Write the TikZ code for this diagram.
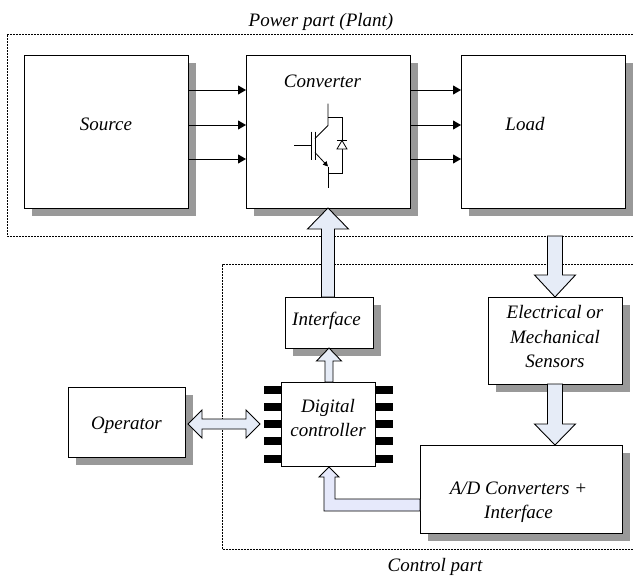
\documentclass[tikz,border=0pt]{standalone}
\usepackage{fontspec}
\setmainfont{Liberation Serif}
\usetikzlibrary{positioning,calc,shadows,arrows.meta}
\definecolor{busblue}{HTML}{E6ECF7}
\definecolor{buslilac}{HTML}{E6E9FB}
\definecolor{shadowgray}{HTML}{999999}
\tikzset{
    every node/.style={outer sep=0pt, inner sep=0pt},
    labeltext/.style={font=\fontsize{19}{24.5}\selectfont\itshape, align=center},
    plainbox/.style={draw, line width=1pt, fill=white, labeltext},
    shadowbox/.style={plainbox, drop shadow={shadow xshift=8pt, shadow yshift=-8pt, opacity=1, fill=shadowgray}},
    frameline/.style={line width=.7pt, dash pattern=on 2pt off 1pt},
    flow/.style={line width=1pt, -{Triangle[length=8pt,width=9pt]}},
    bus/.style={draw, line width=.9pt, fill=busblue, line join=miter},
    chippin/.style={fill=black, minimum width=17.5pt, minimum height=8pt}
}
% root, tip, half shaft, half head, head length
\newcommand{\vbus}[5]{
    \coordinate (bustip) at (#2);
    \coordinate (busroot) at (bustip |- #1);
    \draw[bus] ($(busroot)+(-#3,0)$) -- ($(bustip)+(-#3,#5)$) -- ($(bustip)+(-#4,#5)$) -- (bustip)
        -- ($(bustip)+(#4,#5)$) -- ($(bustip)+(#3,#5)$) -- ($(busroot)+(#3,0)$) -- cycle;
}
\begin{document}
\begin{tikzpicture}[x=1pt,y=-1pt]
\useasboundingbox (0,0) rectangle (633,576);

% dashed parts
\draw[frameline] (633,34) -- (7,34) -- (7,236) -- (633,236);
\draw[frameline] (633,264.5) -- (222,264.5) -- (222,549) -- (633,549);
\node[labeltext] (powerlabel) at (321,22) {Power part (Plant)};
\node[labeltext] (controllabel) at (435,567) {Control part};
\coordinate (powerfoot) at (555,236);

% power part
\node[shadowbox, minimum width=164pt, minimum height=153pt] (source) at (106,131.5) {};
\node[shadowbox, minimum width=164pt, minimum height=153pt, right=58pt of source] (converter) {};
\node[shadowbox, minimum width=164pt, minimum height=153pt, right=51pt of converter] (load) {};
\node[labeltext] (sourcelabel) at ($(source.center)+(0,-7)$) {Source};
\node[labeltext] (converterlabel) at ($(converter.center)+(-5.5,-50)$) {Converter};
\node[labeltext] (loadlabel) at ($(load.center)+(-18,-7)$) {Load};

\foreach \dy in {41.5,6.5,-27.5} {
    \draw[flow] ([yshift=\dy pt]source.east) -- ([yshift=\dy pt]converter.west);
    \draw[flow] ([yshift=\dy pt]converter.east) -- ([yshift=\dy pt]load.west);
}

% switch symbol
\coordinate (igbt) at ($(converter.center)+(0,14)$);
\begin{scope}[shift={(igbt)}, line width=.8pt]
\draw (-34,0) -- (-17,0);
\draw (-17,-14) -- (-17,14);
\draw (-13,-14) -- (-13,14);
\draw (0,-42) -- (0,-20) -- (-13,-7);
\draw[-{Triangle[length=5pt,width=5pt]}] (-13,7) -- (0,21);
\draw (0,21) -- (0,42);
\draw (0,-28) -- (14,-28) -- (14,28) -- (0,28);
\draw[fill=white] (9,3.5) -- (19,3.5) -- (14,-5) -- cycle;
\draw (9,-5) -- (19,-5);
\end{scope}

% control part
\node[shadowbox, minimum width=88pt, minimum height=51pt] (interface) at (329,322.5) {};
\node[labeltext] (interfacelabel) at ($(interface.center)+(-2.5,-2)$) {Interface};
\node[shadowbox, minimum width=134pt, minimum height=87pt] (sensors) at (555,340.5) {};
\node[labeltext] (sensorslabel) at ($(sensors.center)+(0,-4)$) {Electrical or\\Mechanical\\Sensors};
\node[shadowbox, minimum width=202pt, minimum height=88pt] (adconv) at (521,489) {};
\node[labeltext] (adlabel) at ($(adconv.center)+(-2.5,13)$) {A/D Converters +\\Interface};
\node[shadowbox, minimum width=117pt, minimum height=70pt] (operator) at (126.5,422) {};
\node[labeltext] (operatorlabel) at ($(operator.center)+(0,3)$) {Operator};

\node[plainbox, minimum width=94pt, minimum height=84pt] (controller) at (328,424) {};
\node[labeltext] (controllerlabel) at ($(controller.center)+(0,-6)$) {Digital\\controller};
\foreach \i in {1,...,5} {
    \node[chippin] (pinl\i) at ($(controller.west)+(-8.75,{(\i-3)*17.25})$) {};
    \node[chippin] (pinr\i) at ($(controller.east)+(8.75,{(\i-3)*17.25})$) {};
}

% buses
\vbus{interface.north}{converter.south}{6.5}{20.5}{21}
\vbus{controller.north}{interface.south}{4}{12.5}{13}
\vbus{powerfoot}{sensors.north}{7.5}{20.5}{-22}
\vbus{sensors.south}{sensors.south |- adconv.north}{7.5}{20.5}{-21}

\coordinate (opport) at ($(operator.east)+(3,2)$);
\coordinate (ctlport) at ($(controller.west)+(-21,0)$);
\draw[bus] (opport) -- ($(opport)+(14,-14)$) -- ($(opport)+(14,-5)$) -- ($(ctlport)+(-14,-5)$)
    -- ($(ctlport)+(-14,-14)$) -- (ctlport) -- ($(ctlport)+(-14,14)$) -- ($(ctlport)+(-14,5)$)
    -- ($(opport)+(14,5)$) -- ($(opport)+(14,14)$) -- cycle;

\coordinate (fbtip) at ($(controller.south)+(1,1)$);
\coordinate (fbin) at ($(adconv.west)+(0,10)$);
\coordinate (fbout) at ($(adconv.west)+(0,22)$);
\coordinate (fbright) at ($(fbtip)+(6,10)$);
\coordinate (fbleft) at ($(fbtip)+(-5,10)$);
\draw[bus, fill=buslilac] (fbin) -- (fbin -| fbright) -- (fbright) -- ($(fbtip)+(10,10)$) -- (fbtip)
    -- ($(fbtip)+(-10,10)$) -- (fbleft) -- (fbleft |- fbout) -- (fbout) -- cycle;
\end{tikzpicture}
\end{document}
